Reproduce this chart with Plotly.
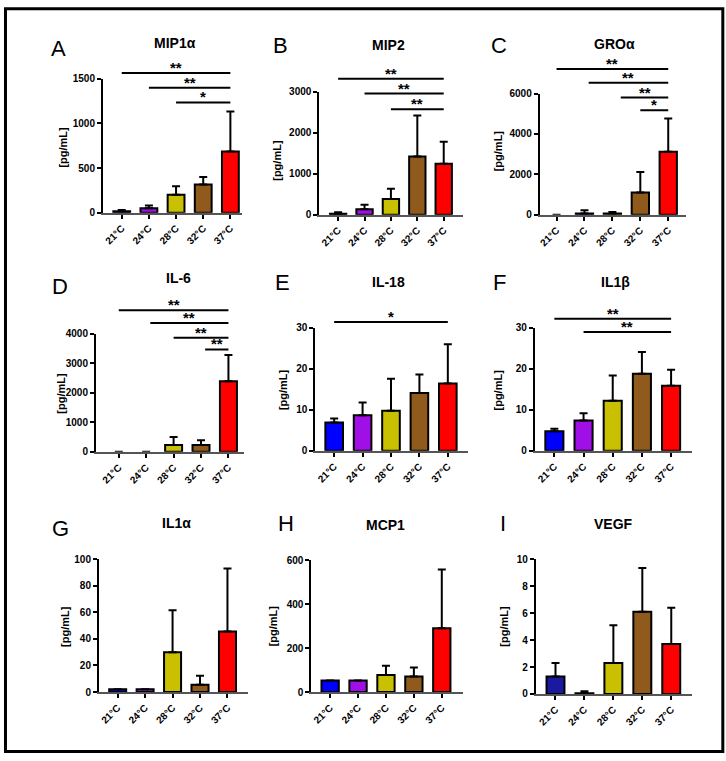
import plotly.graph_objects as go

W, H = 726, 761

categories = ["21°C", "24°C", "28°C", "32°C", "37°C"]
bar_colors = ["#0000ff", "#a010e6", "#c8c000", "#8f5a1c", "#ff0000"]
bar_colors_I = ["#1a1aa0", "#a010e6", "#c8c000", "#8f5a1c", "#ff0000"]

panel_letters = ["A", "B", "C", "D", "E", "F", "G", "H", "I"]
panel_titles = ["MIP1α", "MIP2", "GROα", "IL-6", "IL-18", "IL1β", "IL1α", "MCP1", "VEGF"]
y_label = "[pg/mL]"

# mean values and SD (upper error) per analyte, in pg/mL
mip1a_mean = [15, 50, 200, 315, 685]
mip1a_sd = [15, 30, 95, 85, 450]
mip2_mean = [20, 130, 380, 1420, 1240]
mip2_sd = [40, 110, 250, 1000, 540]
groa_mean = [0, 60, 60, 1100, 3120]
groa_sd = [0, 160, 70, 1020, 1640]
il6_mean = [0, 0, 230, 230, 2390]
il6_sd = [0, 0, 270, 160, 890]
il18_mean = [6.9, 8.7, 9.8, 14.1, 16.4]
il18_sd = [1.0, 3.1, 7.8, 4.5, 9.6]
il1b_mean = [4.8, 7.4, 12.2, 18.8, 15.9]
il1b_sd = [0.6, 1.8, 6.2, 5.3, 3.9]
il1a_mean = [2, 2, 30, 5.5, 45.5]
il1a_sd = [0, 0, 31.5, 6.8, 47.5]
mcp1_mean = [52, 52, 77, 70, 290]
mcp1_sd = [0, 0, 43, 42, 267]
vegf_mean = [1.3, 0.05, 2.3, 6.1, 3.7]
vegf_sd = [1.0, 0.15, 2.8, 3.25, 2.7]

y_max = [1500, 3000, 6000, 4000, 30, 30, 100, 600, 10]
y_dtick = [500, 1000, 2000, 1000, 10, 10, 20, 200, 2]

# significance brackets: (from group, to group, label, bracket level in pg/mL)
sig_A = [(0, 4, "**", 1566), (1, 4, "**", 1400), (2, 4, "*", 1235)]
sig_B = [(0, 4, "**", 3312), (1, 4, "**", 2952), (2, 4, "**", 2568)]
sig_C = [(0, 4, "**", 7220), (1.15, 4, "**", 6537), (2.3, 4, "**", 5805), (3, 4, "*", 5171)]
sig_D = [(0, 4, "**", 4800), (1.15, 4, "**", 4367), (2, 4, "**", 3867), (3.15, 4, "**", 3467)]
sig_E = [(0, 4, "*", 31.4)]
sig_F = [(0, 4, "**", 32.2), (1, 4, "**", 29.0)]

means = [mip1a_mean, mip2_mean, groa_mean, il6_mean, il18_mean, il1b_mean, il1a_mean, mcp1_mean, vegf_mean]
sds = [mip1a_sd, mip2_sd, groa_sd, il6_sd, il18_sd, il1b_sd, il1a_sd, mcp1_sd, vegf_sd]
sigs = [sig_A, sig_B, sig_C, sig_D, sig_E, sig_F, [], [], []]

# layout geometry (pixels): axis box left, right, top, bottom; x range
boxes = [
    (101, 241, 74, 210), (318, 462, 87, 212), (539, 686, 89, 212),
    (94, 243, 333, 453), (314, 467, 327, 452), (534, 692, 327, 452),
    (97, 247, 562, 697), (310, 462, 563, 697), (535, 692, 562, 699),
]
xranges = [
    (-0.70, 4.44), (-0.72, 4.72), (-0.61, 4.64),
    (-0.84, 4.58), (-0.67, 4.70), (-0.68, 4.72),
    (-0.69, 4.76), (-0.68, 4.75), (-0.69, 4.72),
]
title_pos = [(173, 38), (388, 40), (614, 39), (177, 276), (388, 280), (615, 280), (175, 525), (385, 527), (613, 526)]
letter_pos = [(57, 43), (279, 40), (498, 40), (58, 285), (281, 281), (499, 281), (59, 531), (285, 526), (502, 526)]
ylab_pos = [(61, 143), (275, 157), (497, 147), (59, 393), (282, 390), (497, 390), (63, 630), (272, 630), (503, 630)]

FONT = "Arial, 'Liberation Sans', Helvetica, sans-serif"

def px(x):
    return x / W

def py(y):
    return 1 - y / H

fig = go.Figure()
layout = dict(
    width=W, height=H, margin=dict(l=0, r=0, t=0, b=0),
    paper_bgcolor="white", plot_bgcolor="white", showlegend=False,
    font=dict(family=FONT, color="black"),
)
shapes = []
annotations = []

for k in range(9):
    sfx = "" if k == 0 else str(k + 1)
    xa, ya = "x" + sfx, "y" + sfx
    l, r, t, b = boxes[k]
    colors = bar_colors_I if k == 8 else bar_colors
    line_w = [2 if v > 0 else 0 for v in means[k]]
    err = [s if s > 0 else None for s in sds[k]]
    fig.add_trace(go.Bar(
        x=categories, y=means[k], xaxis=xa, yaxis=ya, width=0.62,
        marker=dict(color=colors, line=dict(color="black", width=line_w)),
        error_y=dict(type="data", array=err, arrayminus=[0] * 5, symmetric=False,
                     color="black", thickness=2, width=4),
        cliponaxis=False, hoverinfo="skip",
    ))
    layout["xaxis" + sfx] = dict(
        domain=[px(l), px(r)], anchor=ya, type="category", range=list(xranges[k]),
        showline=True, linecolor="#555555", linewidth=2, ticks="outside", ticklen=4,
        tickwidth=1.5, tickcolor="black", tickangle=-45, showgrid=False, zeroline=False,
        tickfont=dict(family=FONT, size=10, color="black", weight="bold"),
    )
    layout["yaxis" + sfx] = dict(
        domain=[py(b), py(t)], anchor=xa, range=[0, y_max[k]], dtick=y_dtick[k],
        showline=True, linecolor="black", linewidth=1.5, ticks="outside", ticklen=4,
        tickwidth=1.5, tickcolor="black", showgrid=False, zeroline=False,
        tickfont=dict(family=FONT, size=10, color="black", weight="bold"),
    )
    tx, ty = title_pos[k]
    annotations.append(dict(text="<b>%s</b>" % panel_titles[k], x=px(tx), y=py(ty), xref="paper", yref="paper",
                            showarrow=False, xanchor="center", yanchor="middle",
                            font=dict(family=FONT, size=14, color="black")))
    lx, ly = letter_pos[k]
    annotations.append(dict(text=panel_letters[k], x=px(lx), y=py(ly), xref="paper", yref="paper",
                            showarrow=False, xanchor="center", yanchor="middle",
                            font=dict(family=FONT, size=22, color="black")))
    yx, yy = ylab_pos[k]
    annotations.append(dict(text="<b>%s</b>" % y_label, x=px(yx), y=py(yy), xref="paper", yref="paper",
                            showarrow=False, xanchor="center", yanchor="middle", textangle=-90,
                            font=dict(family=FONT, size=11, color="black")))
    for (i, j, lab, lev) in sigs[k]:
        frac = lev / y_max[k]
        shapes.append(dict(type="line", xref=xa, yref=ya + " domain", x0=i, x1=j, y0=frac, y1=frac,
                           line=dict(color="black", width=2)))
        annotations.append(dict(text="<b>%s</b>" % lab, xref=xa, yref=ya + " domain",
                                x=(i + j) / 2, y=frac, yanchor="bottom", xanchor="center",
                                showarrow=False, yshift=-5,
                                font=dict(family=FONT, size=15, color="black")))

shapes.append(dict(type="rect", xref="paper", yref="paper", x0=px(3.5), x1=px(722.8), y0=py(757.5), y1=py(2.8),
                   line=dict(color="black", width=3)))
layout["shapes"] = shapes
layout["annotations"] = annotations
fig.update_layout(**layout)
fig.write_html("out.html", config={"displayModeBar": False},
               post_script="document.body.style.margin='0';document.body.style.padding='0';")
